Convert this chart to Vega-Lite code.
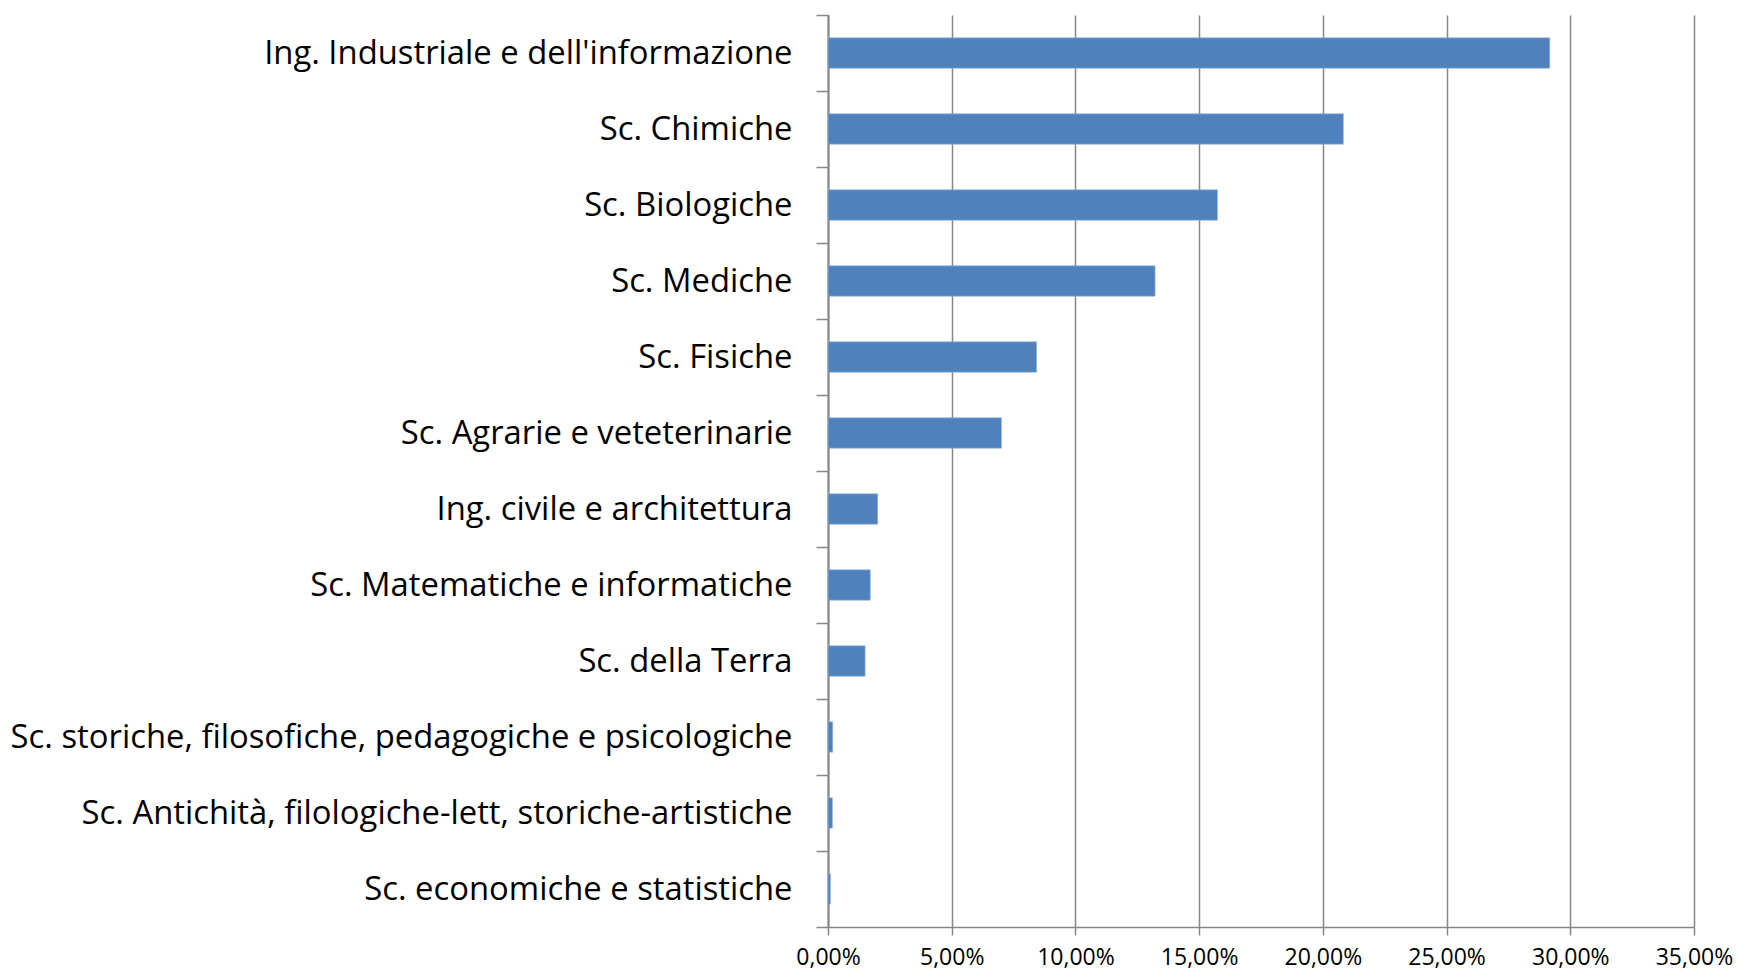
{
  "$schema": "https://vega.github.io/schema/vega-lite/v6.json",
  "autosize": {"type": "none"},
  "width": 866,
  "height": 912,
  "padding": {"left": 828, "top": 15, "right": 44, "bottom": 46},
  "background": "white",
  "data": {
    "values": [
      {"area": "Ing. Industriale e dell'informazione", "pct": 0.2917, "ord": 1},
      {"area": "Sc. Chimiche", "pct": 0.2083, "ord": 2},
      {"area": "Sc. Biologiche", "pct": 0.1574, "ord": 3},
      {"area": "Sc. Mediche", "pct": 0.1322, "ord": 4},
      {"area": "Sc. Fisiche", "pct": 0.0843, "ord": 5},
      {"area": "Sc. Agrarie e veteterinarie", "pct": 0.0701, "ord": 6},
      {"area": "Ing. civile e architettura", "pct": 0.0201, "ord": 7},
      {"area": "Sc. Matematiche e informatiche", "pct": 0.0171, "ord": 8},
      {"area": "Sc. della Terra", "pct": 0.0150, "ord": 9},
      {"area": "Sc. storiche, filosofiche, pedagogiche e psicologiche", "pct": 0.0019, "ord": 10},
      {"area": "Sc. Antichità, filologiche-lett, storiche-artistiche", "pct": 0.0018, "ord": 11},
      {"area": "Sc. economiche e statistiche", "pct": 0.0010, "ord": 12}
    ]
  },
  "mark": {"type": "bar", "color": "#4f81bd", "height": {"band": 0.4}, "stroke": "#9ab6dc", "strokeWidth": 0.6},
  "encoding": {
    "y": {
      "field": "area",
      "type": "nominal",
      "sort": {"field": "ord", "order": "ascending"},
      "scale": {"paddingInner": 0, "paddingOuter": 0},
      "axis": {
        "title": null,
        "tickBand": "extent",
        "tickSize": 12,
        "tickColor": "#868686",
        "tickWidth": 1.5,
        "domainColor": "#868686",
        "domainWidth": 2,
        "labelPadding": 24,
        "labelFont": "Open Sans",
        "labelFontSize": 32.8,
        "labelColor": "#000000",
        "labelLimit": 0,
        "grid": false
      }
    },
    "x": {
      "field": "pct",
      "type": "quantitative",
      "scale": {"domain": [0, 0.35], "nice": false},
      "axis": {
        "title": null,
        "values": [0, 0.05, 0.1, 0.15, 0.2, 0.25, 0.3, 0.35],
        "labelExpr": "replace(format(datum.value, '.2%'), '.', ',')",
        "grid": true,
        "gridColor": "#868686",
        "gridWidth": 1.5,
        "tickSize": 8,
        "tickColor": "#868686",
        "tickWidth": 1.5,
        "domainColor": "#868686",
        "domainWidth": 1.5,
        "labelPadding": 11,
        "labelFont": "Open Sans",
        "labelFontSize": 23,
        "labelColor": "#000000",
        "labelFlush": false,
        "labelOverlap": false
      }
    }
  },
  "config": {"view": {"stroke": null}}
}
